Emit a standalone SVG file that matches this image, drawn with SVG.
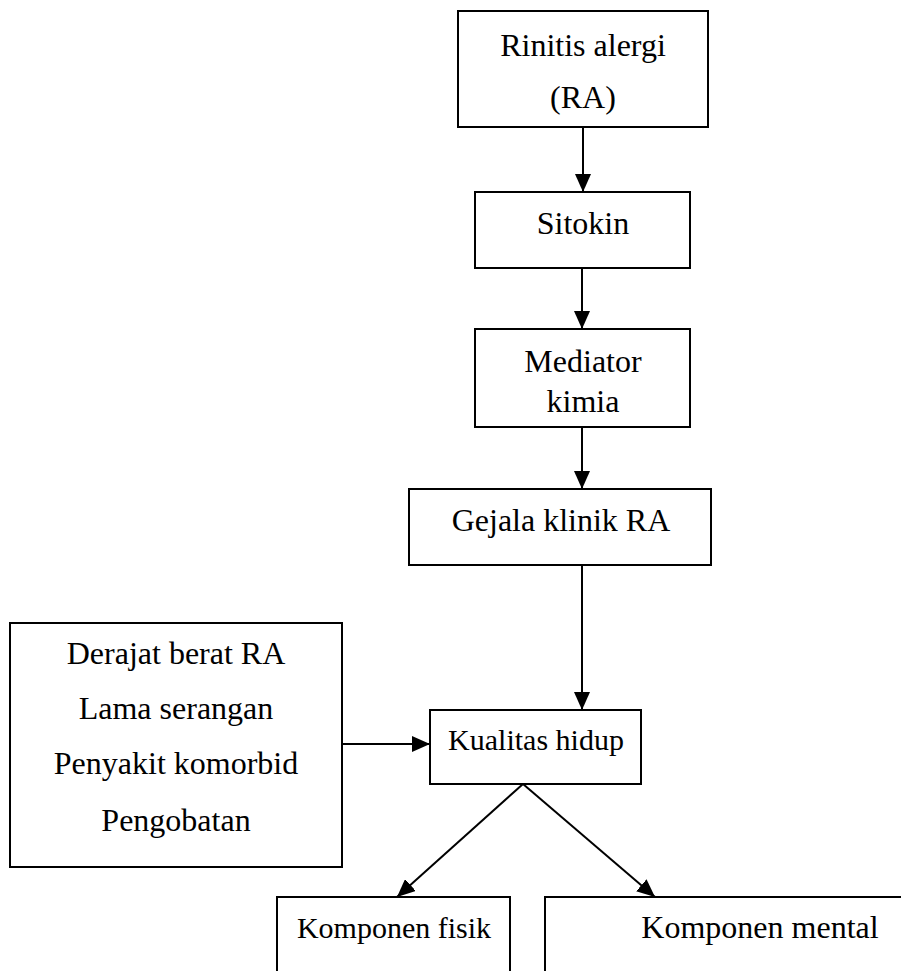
<svg xmlns="http://www.w3.org/2000/svg" width="901" height="971" viewBox="0 0 901 971">
<style>
.box{fill:#fff;stroke:#000;stroke-width:2}
.t{font-family:"Liberation Serif","Times New Roman",serif;font-size:32px;fill:#000;text-anchor:middle}
.s{font-size:30px}
.c{stroke:#000;stroke-width:2;fill:none;marker-end:url(#ah)}
</style>
<defs>
<marker id="ah" markerUnits="userSpaceOnUse" markerWidth="18" markerHeight="16" refX="18" refY="8" orient="auto">
<path d="M0,0 L18,8 L0,16 z" fill="#000"/>
</marker>
</defs>
<rect width="901" height="971" fill="#fff"/>
<g id="connectors">
<line class="c" x1="583" y1="127" x2="583" y2="192"/>
<line class="c" x1="582" y1="268" x2="582" y2="329"/>
<line class="c" x1="582" y1="427" x2="582" y2="489"/>
<line class="c" x1="582" y1="565" x2="582" y2="710"/>
<line class="c" x1="342" y1="744" x2="430" y2="744"/>
<line class="c" x1="523" y1="784" x2="397" y2="897"/>
<line class="c" x1="523" y1="784" x2="655" y2="897"/>
</g>
<g id="node-ra">
<rect class="box" x="458" y="11" width="250" height="116"/>
<text class="t" x="583" y="56">Rinitis alergi</text>
<text class="t" x="583" y="108">(RA)</text>
</g>
<g id="node-sitokin">
<rect class="box" x="475" y="192" width="215" height="76"/>
<text class="t" x="583" y="234">Sitokin</text>
</g>
<g id="node-mediator">
<rect class="box" x="475" y="329" width="215" height="98"/>
<text class="t" x="583" y="372">Mediator</text>
<text class="t" x="583" y="412">kimia</text>
</g>
<g id="node-gejala">
<rect class="box" x="409" y="489" width="302" height="76"/>
<text class="t" x="561" y="531">Gejala klinik RA</text>
</g>
<g id="node-faktor">
<rect class="box" x="10" y="623" width="332" height="244"/>
<text class="t" x="176" y="664">Derajat berat RA</text>
<text class="t" x="176" y="719">Lama serangan</text>
<text class="t" x="176" y="774">Penyakit komorbid</text>
<text class="t" x="176" y="831">Pengobatan</text>
</g>
<g id="node-kualitas">
<rect class="box" x="430" y="710" width="211" height="74"/>
<text class="t s" x="536" y="750">Kualitas hidup</text>
</g>
<g id="node-fisik">
<rect class="box" x="277" y="897" width="233" height="90"/>
<text class="t s" x="394" y="938">Komponen fisik</text>
</g>
<g id="node-mental">
<rect class="box" x="545" y="897" width="370" height="90"/>
<text class="t" x="760" y="938">Komponen mental</text>
</g>
</svg>
